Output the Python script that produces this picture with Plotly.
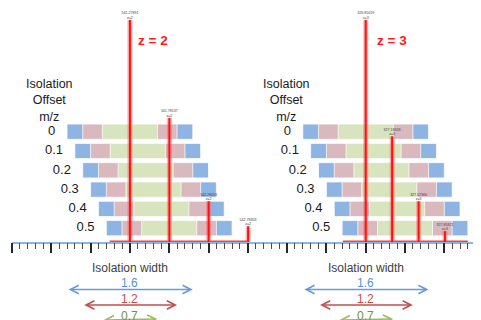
import plotly.graph_objects as go

# ---------------- data ----------------
offsets = [0, 0.1, 0.2, 0.3, 0.4, 0.5]
offset_labels = ["0", "0.1", "0.2", "0.3", "0.4", "0.5"]
isolation_widths = [1.6, 1.2, 0.7]
width_labels = ["1.6", "1.2", "0.7"]

mz_z2 = [541.27891, 541.78137, 542.28053, 542.78303]
int_z2 = [100, 56, 18.5, 7.3]
mz_z3 = [326.85019, 327.18618, 327.52366, 327.85821]
int_z3 = [100, 47.7, 18.5, 5.1]
charges = [2, 3]
charge_labels = ["z = 2", "z = 3"]
baseline_z2 = [541.02, 542.79]
baseline_z3 = [326.56, 328.15]

# ---------------- layout constants ----------------
# The page body has an 8px default margin, so work in page pixels and shift.
OFF = 8
PAGE_W, PAGE_H = 481, 320
W, H = PAGE_W - OFF, PAGE_H - OFF


def fx(px):  # page x pixel -> figure x pixel
    return px - OFF


def fy(px):  # page y pixel -> figure y pixel
    return px - OFF


FONT = "Liberation Sans, Arial, sans-serif"
PX_PER_MZ = 78.6
AXIS_PX = fy(242.5)
TOP_PX = fy(20.0)
ROW0_PX = fy(131.7)
ROW_PX_PER_UNIT = 193.0
PX_PER_INT = (AXIS_PX - TOP_PX) / 100.0

bar_colors = ["#8DB4E2", "#D9B8BE", "#D7E4BD"]
arrow_colors = ["#6A9ADA", "#C0504D", "#9BBB59"]
label_colors = ["#5B8FD4", "#C0504D", "#76923C"]
arrow_px = [fy(289.5), fy(305.0), fy(322.5)]
label_px = [fy(283.0), fy(299.0), fy(315.5)]

panels = [
    dict(mz=mz_z2, inten=int_z2, z=charges[0], zl=charge_labels[0], base=baseline_z2,
         xa="x", peak_px=fx(129.9), d0=fx(11.5), d1=fx(257.0), header_px=fx(49.7),
         zlabel_px=fx(153.0)),
    dict(mz=mz_z3, inten=int_z3, z=charges[1], zl=charge_labels[1], base=baseline_z3,
         xa="x2", peak_px=fx(365.7), d0=fx(257.0), d1=fx(481.0), header_px=fx(286.5),
         zlabel_px=fx(392.0)),
]

fig = go.Figure()
annotations = []
axes_layout = {}

for i, p in enumerate(panels):
    mz0 = p["mz"][0]
    xa = p["xa"]
    centers = [mz0 + o for o in offsets]
    # isolation bars (nested)
    for w, col in zip(isolation_widths, bar_colors):
        fig.add_trace(go.Bar(
            orientation="h", y=offsets, x=[w] * len(offsets),
            base=[c - w / 2 for c in centers], width=0.079,
            marker=dict(color=col, line=dict(color="rgba(255,255,255,0.75)", width=1)),
            xaxis=xa, yaxis="y", hoverinfo="skip", showlegend=False))
    # row labels
    fig.add_trace(go.Scatter(
        x=[c - isolation_widths[0] / 2 - 0.15 for c in centers], y=offsets,
        mode="text", text=offset_labels, textposition="middle left",
        textfont=dict(size=13, color="#1a1a1a", family=FONT),
        xaxis=xa, yaxis="y", hoverinfo="skip", showlegend=False, cliponaxis=False))
    # baseline of spectrum
    fig.add_trace(go.Scatter(
        x=p["base"], y=[0.6, 0.6], mode="lines",
        line=dict(color="rgba(255,40,40,0.9)", width=1.5),
        xaxis=xa, yaxis="y2", hoverinfo="skip", showlegend=False))
    # peak sticks (halo + core)
    sx, sy = [], []
    for m, v in zip(p["mz"], p["inten"]):
        sx += [m, m, None]
        sy += [0, v, None]
    fig.add_trace(go.Scatter(x=sx, y=sy, mode="lines",
                             line=dict(color="rgba(255,90,90,0.45)", width=5),
                             xaxis=xa, yaxis="y2", hoverinfo="skip", showlegend=False))
    fig.add_trace(go.Scatter(x=sx, y=sy, mode="lines",
                             line=dict(color="#FF1010", width=2),
                             xaxis=xa, yaxis="y2", hoverinfo="skip", showlegend=False))
    # peak labels
    fig.add_trace(go.Scatter(
        x=p["mz"], y=p["inten"], mode="text",
        text=[f"{m:.5f}<br>z={p['z']}" for m in p["mz"]],
        textposition="top center",
        textfont=dict(size=3.6, color="#404040", family=FONT),
        xaxis=xa, yaxis="y2", hoverinfo="skip", showlegend=False, cliponaxis=False))

    # header
    annotations.append(dict(text="Isolation<br>Offset<br>m/z", xref="paper", yref="paper",
                            x=p["header_px"] / W, y=1 - fy(100.5) / H, showarrow=False,
                            font=dict(size=12.5, color="#1a1a1a", family=FONT),
                            xanchor="center", yanchor="middle"))
    # z label
    annotations.append(dict(text=f"<b>{p['zl']}</b>", xref="paper", yref="paper",
                            x=p["zlabel_px"] / W, y=1 - fy(41) / H, showarrow=False,
                            font=dict(size=13.5, color="#FF1A1A", family=FONT),
                            xanchor="center", yanchor="middle"))
    # isolation width title
    annotations.append(dict(text="Isolation width", xref=xa, yref="paper",
                            x=mz0, y=1 - fy(267.5) / H, showarrow=False,
                            font=dict(size=12, color="#404040", family=FONT),
                            xanchor="center", yanchor="middle"))
    # width arrows and labels
    for w, wl, ac, lc, apx, lpx in zip(isolation_widths, width_labels, arrow_colors,
                                       label_colors, arrow_px, label_px):
        annotations.append(dict(text="", xref=xa, yref="paper", axref=xa, ayref="pixel",
                                x=mz0 + w / 2, ax=mz0 - w / 2, y=1 - apx / H, ay=0,
                                showarrow=True, arrowside="end+start", arrowhead=5,
                                startarrowhead=5, arrowsize=1.1, startarrowsize=1.1,
                                arrowwidth=1.5, arrowcolor=ac, standoff=0, startstandoff=0))
        annotations.append(dict(text=wl, xref=xa, yref="paper", x=mz0, y=1 - lpx / H,
                                showarrow=False, font=dict(size=12, color=lc, family=FONT),
                                xanchor="center", yanchor="middle"))

    axes_layout["xaxis" if xa == "x" else "xaxis2"] = dict(
        domain=[max(p["d0"], 0) / W, min(p["d1"], W) / W],
        range=[mz0 - (p["peak_px"] - p["d0"]) / PX_PER_MZ, mz0 + (p["d1"] - p["peak_px"]) / PX_PER_MZ],
        anchor="free", position=1 - AXIS_PX / H,
        showline=True, linecolor="#8DB4E2", linewidth=1.5,
        ticks="outside", tick0=mz0, dtick=0.5, ticklen=10, tickwidth=1.5, tickcolor="#262626",
        minor=dict(ticks="outside", tick0=mz0, dtick=0.1, ticklen=6, tickwidth=1.2,
                   tickcolor="#4a4a4a", showgrid=False),
        showticklabels=False, showgrid=False, zeroline=False, fixedrange=True,
    )

fig.update_layout(
    width=W, height=H, autosize=False,
    margin=dict(l=0, r=0, t=0, b=0),
    paper_bgcolor="white", plot_bgcolor="rgba(0,0,0,0)",
    barmode="overlay", showlegend=False,
    font=dict(family=FONT),
    yaxis=dict(domain=[0, 1], range=[(H - ROW0_PX) / ROW_PX_PER_UNIT, -ROW0_PX / ROW_PX_PER_UNIT],
               visible=False, fixedrange=True),
    yaxis2=dict(overlaying="y", range=[-(H - AXIS_PX) / PX_PER_INT, AXIS_PX / PX_PER_INT],
                visible=False, fixedrange=True),
    annotations=annotations,
    **axes_layout,
)

fig.write_html("out.html")
